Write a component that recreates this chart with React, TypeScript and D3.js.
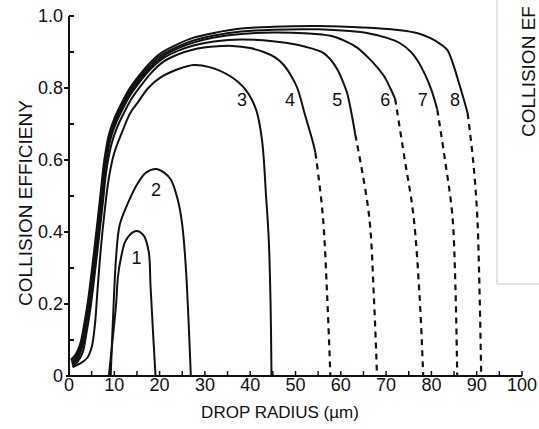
import * as d3 from 'd3';

type Pt = [number, number];

// solid parts of the curves, numbered as in the figure
const curve1: Pt[] = [[8.8, 0], [9.7, 0.11], [10.4, 0.2], [10.8, 0.275], [11.5, 0.33], [12.6, 0.378], [14.8, 0.403], [16.5, 0.39], [17.6, 0.345], [18, 0.25], [18.6, 0.11], [19.1, 0]];
const curve2: Pt[] = [[9.2, 0], [9.7, 0.155], [10.4, 0.33], [11.2, 0.42], [13, 0.48], [15.2, 0.536], [17, 0.565], [19.2, 0.575], [21, 0.565], [22.5, 0.545], [24, 0.49], [25, 0.42], [25.8, 0.3], [26.4, 0.15], [26.9, 0]];
const curve3: Pt[] = [[0.8, 0.025], [2.5, 0.035], [4, 0.05], [5, 0.08], [5.7, 0.14], [6.3, 0.24], [7, 0.35], [7.8, 0.45], [8.8, 0.55], [10, 0.62], [11.8, 0.68], [13.5, 0.73], [15.2, 0.76], [17.5, 0.8], [20.3, 0.83], [24, 0.852], [27.5, 0.864], [31, 0.858], [35.7, 0.832], [39, 0.795], [41.3, 0.74], [42.6, 0.656], [43.5, 0.5], [44.1, 0.378], [44.5, 0.2], [44.7, 0]];
const curve4: Pt[] = [[0.8, 0.025], [1.9, 0.04], [3, 0.065], [3.8, 0.115], [4.7, 0.185], [5.7, 0.285], [6.7, 0.395], [7.5, 0.485], [8.3, 0.575], [9.4, 0.645], [10.6, 0.69], [12.1, 0.73], [13.8, 0.77], [15.8, 0.805], [18, 0.84], [20.7, 0.872], [24, 0.893], [27.5, 0.907], [32, 0.915], [36, 0.917], [40, 0.911], [43, 0.9], [45.5, 0.885], [47.4, 0.864], [49, 0.835], [50.4, 0.8], [52, 0.73], [53.7, 0.656], [54.4, 0.62]];
const curve5: Pt[] = [[0.7, 0.03], [1.8, 0.045], [2.8, 0.075], [3.6, 0.125], [4.5, 0.195], [5.5, 0.295], [6.5, 0.405], [7.3, 0.495], [8.1, 0.585], [9.1, 0.655], [10.3, 0.7], [11.8, 0.74], [13.5, 0.78], [15.5, 0.815], [17.8, 0.85], [20.6, 0.881], [24, 0.903], [27.5, 0.918], [32, 0.929], [38, 0.935], [45, 0.93], [50.4, 0.92], [53.5, 0.91], [56.2, 0.897], [58, 0.875], [59.3, 0.85], [60.4, 0.82], [61.4, 0.786], [62.5, 0.72], [63.2, 0.67]];
const curve6: Pt[] = [[0.6, 0.035], [1.7, 0.05], [2.7, 0.08], [3.5, 0.13], [4.4, 0.2], [5.4, 0.3], [6.4, 0.41], [7.2, 0.5], [8, 0.59], [9, 0.66], [10.2, 0.705], [11.7, 0.745], [13.4, 0.785], [15.4, 0.82], [17.7, 0.855], [20.5, 0.886], [24, 0.91], [27.5, 0.926], [32, 0.94], [38, 0.95], [45, 0.954], [52, 0.952], [57.7, 0.945], [61, 0.93], [63.6, 0.912], [66, 0.885], [68, 0.858], [69.7, 0.83], [70.9, 0.8], [72, 0.77]];
const curve7: Pt[] = [[0.5, 0.04], [1.6, 0.055], [2.6, 0.085], [3.4, 0.135], [4.3, 0.205], [5.3, 0.305], [6.3, 0.415], [7.1, 0.505], [7.9, 0.595], [8.9, 0.665], [10.1, 0.71], [11.6, 0.75], [13.3, 0.79], [15.3, 0.825], [17.6, 0.86], [20.4, 0.891], [24, 0.915], [27.5, 0.932], [32, 0.946], [38, 0.957], [45, 0.962], [55, 0.963], [62, 0.958], [66, 0.952], [70, 0.94], [73, 0.925], [75.5, 0.9], [77, 0.875], [78.5, 0.84], [80, 0.795], [81.3, 0.74]];
const curve8: Pt[] = [[0.4, 0.045], [1.5, 0.06], [2.5, 0.09], [3.3, 0.14], [4.2, 0.21], [5.2, 0.31], [6.2, 0.42], [7, 0.51], [7.8, 0.6], [8.8, 0.67], [10, 0.715], [11.5, 0.755], [13.2, 0.795], [15.2, 0.83], [17.5, 0.865], [20.3, 0.897], [24, 0.922], [27.5, 0.94], [32, 0.953], [38, 0.965], [45, 0.97], [55, 0.972], [65, 0.968], [72.5, 0.961], [77, 0.952], [79.7, 0.939], [82, 0.922], [83.5, 0.906], [84.7, 0.87], [85.7, 0.83], [87, 0.775], [88, 0.73]];

// dashed continuations
const dash4: Pt[] = [[54.4, 0.62], [56, 0.45], [57, 0.22], [57.7, 0]];
const dash5: Pt[] = [[63.2, 0.67], [66.2, 0.45], [67.3, 0.22], [68, 0]];
const dash6: Pt[] = [[72, 0.77], [74, 0.61], [76, 0.45], [77.4, 0.22], [78.2, 0]];
const dash7: Pt[] = [[81.3, 0.74], [83, 0.6], [84.6, 0.45], [85.3, 0.25], [85.7, 0]];
const dash8: Pt[] = [[88, 0.73], [89.2, 0.6], [90.1, 0.45], [90.6, 0.25], [91, 0]];

const solidCurves = [curve1, curve2, curve3, curve4, curve5, curve6, curve7, curve8];
const dashedCurves = [dash4, dash5, dash6, dash7, dash8];

const curveLabels = ['1', '2', '3', '4', '5', '6', '7', '8'];
const labelPos: Pt[] = [[14.9, 0.33], [19.2, 0.517], [38.2, 0.767], [48.8, 0.767], [59.2, 0.767], [69.8, 0.767], [78.1, 0.767], [85.2, 0.767]];

const xTickLabels = [0, 10, 20, 30, 40, 50, 60, 70, 80, 90, 100];
const yTickLabels = ['0', '0.2', '0.4', '0.6', '0.8', '1.0'];

const font = '"Liberation Sans", Arial, sans-serif';

export default function App() {
  const x = d3.scaleLinear().domain([0, 100]).range([69, 522]);
  const y = d3.scaleLinear().domain([0, 1]).range([376, 16]);
  const line = d3
    .line<Pt>()
    .curve(d3.curveCatmullRom.alpha(0.5))
    .x((d) => x(d[0]))
    .y((d) => y(d[1]));

  const xMinor = d3.range(0, 101, 5);
  const yMinor = d3.range(0, 11).map((i) => i / 10);

  return (
    <svg width={539} height={429} style={{ position: 'absolute', left: 0, top: 0, background: '#fff' }}>
      {/* neighbouring panel, cut off at the right */}
      <path d="M497,0V284H539" fill="none" stroke="#c8c8c8" strokeWidth={1} />
      <text transform="translate(535,137) rotate(-90)" fontFamily={font} fontSize={19} fill="#111">
        COLLISION EF
      </text>

      {/* axes */}
      <line x1={x(0)} x2={x(0)} y1={y(1)} y2={y(0)} stroke="#111" strokeWidth={2} />
      <line x1={x(0) - 3} x2={x(100)} y1={y(0)} y2={y(0)} stroke="#111" strokeWidth={2} />
      {yMinor.map((v, i) => {
        const out = i % 2 === 0 && i > 0 && i < 10;
        return (
          <line key={'yt' + i} x1={x(0)} x2={out ? x(0) - 5 : x(0) + 5} y1={y(v)} y2={y(v)} stroke="#111" strokeWidth={2} />
        );
      })}
      {xMinor.map((v) => (
        <line key={'xt' + v} x1={x(v)} x2={x(v)} y1={y(0)} y2={y(0) - 5} stroke="#111" strokeWidth={1.5} />
      ))}
      {yTickLabels.map((t) => (
        <text key={'yl' + t} x={63} y={y(+t)} dy="0.36em" textAnchor="end" fontFamily={font} fontSize={18} fill="#111">
          {t}
        </text>
      ))}
      {xTickLabels.map((t) => (
        <text key={'xl' + t} x={x(t)} y={391} textAnchor="middle" fontFamily={font} fontSize={18} fill="#111">
          {t}
        </text>
      ))}
      <text x={280} y={418} textAnchor="middle" fontFamily={font} fontSize={17} fill="#111">
        DROP RADIUS (µm)
      </text>
      <text transform="translate(32,203) rotate(-90)" textAnchor="middle" fontFamily={font} fontSize={19} fill="#111">
        COLLISION EFFICIENY
      </text>

      {/* curves */}
      {solidCurves.map((c, i) => (
        <path key={'c' + i} d={line(c) ?? ''} fill="none" stroke="#111" strokeWidth={2} />
      ))}
      {dashedCurves.map((c, i) => (
        <path key={'d' + i} d={line(c) ?? ''} fill="none" stroke="#111" strokeWidth={2.2} strokeDasharray="6 5" />
      ))}
      {curveLabels.map((t, i) => (
        <text key={'l' + t} x={x(labelPos[i][0])} y={y(labelPos[i][1])} dy="0.36em" textAnchor="middle" fontFamily={font} fontSize={18} fill="#111">
          {t}
        </text>
      ))}
    </svg>
  );
}
